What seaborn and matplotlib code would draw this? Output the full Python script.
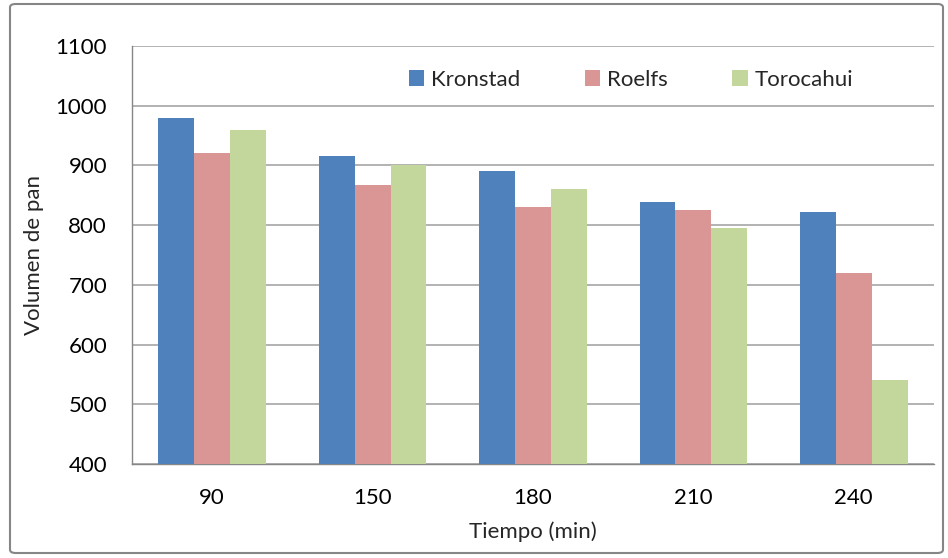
import matplotlib
matplotlib.use("Agg")
import matplotlib.pyplot as plt
from matplotlib.patches import FancyBboxPatch
import seaborn as sns
import pandas as pd

# Bread volume by proofing time for three wheat varieties
tiempos = ["90", "150", "180", "210", "240"]
kronstad = [980, 915, 890, 838, 822]
roelfs = [920, 867, 830, 825, 720]
torocahui = [960, 900, 860, 796, 540]
variedades = ["Kronstad", "Roelfs", "Torocahui"]
colores = ["#4F81BD", "#D99694", "#C3D69B"]
yticks = [400, 500, 600, 700, 800, 900, 1000, 1100]

rows = []
for nombre, serie in zip(variedades, [kronstad, roelfs, torocahui]):
    for t, v in zip(tiempos, serie):
        rows.append({"Tiempo": t, "Variedad": nombre, "Volumen": v})
df = pd.DataFrame(rows)

sns.set_theme(style="white")
plt.rcParams["font.family"] = ["Lato", "DejaVu Sans"]

FS = 16
W, H = 948, 558
fig = plt.figure(figsize=(W / 100, H / 100), dpi=100)
ax = fig.add_axes([132 / W, 1 - 464 / H, (934 - 132) / W, (464 - 46) / H])

sns.barplot(data=df, x="Tiempo", y="Volumen", hue="Variedad", order=tiempos,
            hue_order=variedades, palette=colores, width=0.67, saturation=1,
            linewidth=0, ax=ax, zorder=3)

ax.set_ylim(400, 1100)
ax.set_yticks(yticks)
ax.set_xlim(-0.5, len(tiempos) - 0.5)
ax.yaxis.grid(True, color="#A6A6A6", linewidth=1.2, zorder=0)
ax.set_axisbelow(True)

for s in ["top", "right"]:
    ax.spines[s].set_visible(False)
for s in ["left", "bottom"]:
    ax.spines[s].set_color("#868686")
    ax.spines[s].set_linewidth(1.0)

# category boundary ticks on x, outward ticks on y
ax.set_xticks([i + 0.5 for i in range(-1, len(tiempos))], minor=True)
ax.tick_params(axis="x", which="minor", length=5, color="#868686", width=1, direction="out")
ax.tick_params(axis="x", which="major", length=0, labelsize=FS, pad=17, colors="black")
ax.tick_params(axis="y", length=5, color="#868686", width=1, direction="out",
               labelsize=FS, pad=13, colors="black")

ax.set_xlabel("Tiempo (min)", fontsize=FS, labelpad=10)
ax.set_ylabel("Volumen de pan", fontsize=FS, labelpad=8)

leg = ax.legend(loc="center", bbox_to_anchor=(631 / W, 1 - 80 / H),
                bbox_transform=fig.transFigure, ncol=3, frameon=False,
                fontsize=FS, handlelength=0.7, handleheight=0.7,
                handletextpad=0.3, columnspacing=2.9)

# rounded chart-area border
border = FancyBboxPatch((10 / W, 5 / H), (W - 15) / W, (H - 9) / H,
                        boxstyle="round,pad=0,rounding_size=0.006",
                        transform=fig.transFigure, fill=False,
                        edgecolor="#868686", linewidth=1.5)
fig.patches.append(border)

fig.savefig("out.png", dpi=100)
